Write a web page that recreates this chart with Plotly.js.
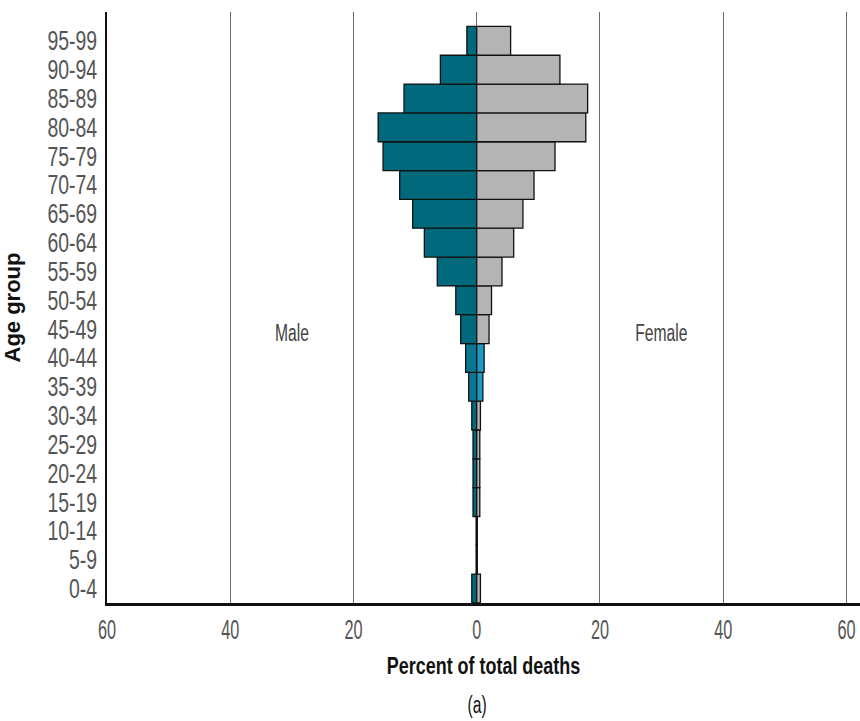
<!DOCTYPE html>
<html>
<head>
<meta charset="utf-8">
<script src="https://cdn.plot.ly/plotly-3.0.1.min.js"></script>
<style>
  html, body { margin: 0; padding: 0; background: #ffffff; }
  #chart { width: 860px; height: 721px; }
</style>
</head>
<body>
<div id="chart"></div>
<script>
// Age groups, bottom to top
const ageGroups = ['0-4','5-9','10-14','15-19','20-24','25-29','30-34','35-39','40-44','45-49',
                   '50-54','55-59','60-64','65-69','70-74','75-79','80-84','85-89','90-94','95-99'];
// Percent of total deaths
const malePct   = [0.8, 0.1, 0.1, 0.6, 0.6, 0.6, 0.8, 1.3, 1.8, 2.6,
                   3.4, 6.4, 8.5, 10.4, 12.5, 15.2, 16.0, 11.8, 5.9, 1.6];
const femalePct = [0.6, 0.1, 0.1, 0.5, 0.5, 0.5, 0.6, 1.0, 1.2, 2.0,
                   2.4, 4.1, 6.0, 7.5, 9.3, 12.7, 17.7, 18.0, 13.5, 5.5];
const highlightedGroups = ['35-39', '40-44'];
const xTickVals = [-60, -40, -20, 0, 20, 40, 60];
const xTickText = ['60', '40', '20', '0', '20', '40', '60'];

const TEAL = '#006a7c', TEAL_HI = '#0b7690', GRAY = '#b4b4b4', BLUE_HI = '#1b9bc6';
const maleColors = ageGroups.map(g => highlightedGroups.includes(g) ? TEAL_HI : TEAL);
const femaleColors = ageGroups.map(g => highlightedGroups.includes(g) ? BLUE_HI : GRAY);

const FONT = '"Liberation Sans", Arial, sans-serif';

const traces = [
  {
    type: 'bar', orientation: 'h', name: 'Male',
    y: ageGroups, x: malePct.map(v => -v),
    marker: { color: maleColors, line: { color: '#111', width: 1.3 } },
    width: 1, hoverinfo: 'skip'
  },
  {
    type: 'bar', orientation: 'h', name: 'Female',
    y: ageGroups, x: femalePct,
    marker: { color: femaleColors, line: { color: '#111', width: 1.3 } },
    width: 1, hoverinfo: 'skip'
  }
];

const layout = {
  width: 860, height: 721,
  margin: { l: 107, r: 0, t: 12, b: 118 },
  paper_bgcolor: '#ffffff', plot_bgcolor: '#ffffff',
  barmode: 'overlay', bargap: 0,
  showlegend: false,
  font: { family: FONT, color: '#333' },
  xaxis: {
    range: [-60, 62.2],
    tickmode: 'array', tickvals: xTickVals, ticktext: xTickText,
    ticklabeloverflow: 'allow',
    showgrid: true, gridcolor: '#6a6a6a', gridwidth: 1,
    zeroline: false,
    showline: true, linecolor: '#111', linewidth: 2.5,
    ticks: '', tickfont: { family: FONT, size: 28, color: '#555' },
    title: { text: 'Percent of total deaths', font: { family: FONT, size: 23, color: '#111', weight: 'bold' }, standoff: 14 },
    fixedrange: true
  },
  yaxis: {
    type: 'category', categoryorder: 'array', categoryarray: ageGroups,
    tickmode: 'array', tickvals: ageGroups, ticktext: ageGroups,
    range: [-0.5, 20.0],
    showgrid: false, zeroline: false,
    showline: true, linecolor: '#111', linewidth: 2.5,
    ticks: '', tickfont: { family: FONT, size: 27, color: '#555' },
    ticklabelstandoff: 2,
    title: { text: 'Age group', font: { family: FONT, size: 22, color: '#111', weight: 'bold' }, standoff: 3 },
    fixedrange: true
  },
  annotations: [
    { x: -30, y: '45-49', xref: 'x', yref: 'y', yshift: -4, text: 'Male', showarrow: false,
      font: { family: FONT, size: 23, color: '#444' } },
    { x: 30, y: '45-49', xref: 'x', yref: 'y', yshift: -4, text: 'Female', showarrow: false,
      font: { family: FONT, size: 23, color: '#444' } },
    { x: 0, y: 0, xref: 'x', yref: 'paper', yanchor: 'middle', yshift: -102, text: '(a)', showarrow: false,
      font: { family: FONT, size: 23, color: '#111' } }
  ]
};

// Horizontally condense rendered text to mimic the condensed typeface of the original
function squeeze(selector, factor) {
  document.querySelectorAll('#chart ' + selector).forEach(t => {
    const len = t.getComputedTextLength();
    if (len > 0) {
      t.setAttribute('textLength', (len * factor).toFixed(1));
      t.setAttribute('lengthAdjust', 'spacingAndGlyphs');
    }
  });
}

Plotly.newPlot('chart', traces, layout, { displayModeBar: false, staticPlot: true }).then(() => {
  squeeze('.ytick text', 0.72);
  squeeze('.xtick text', 0.58);
  squeeze('.g-xtitle text', 0.78);
  squeeze('.g-ytitle text', 1.0);
  squeeze('.annotation-text', 0.68);
});
</script>
</body>
</html>
